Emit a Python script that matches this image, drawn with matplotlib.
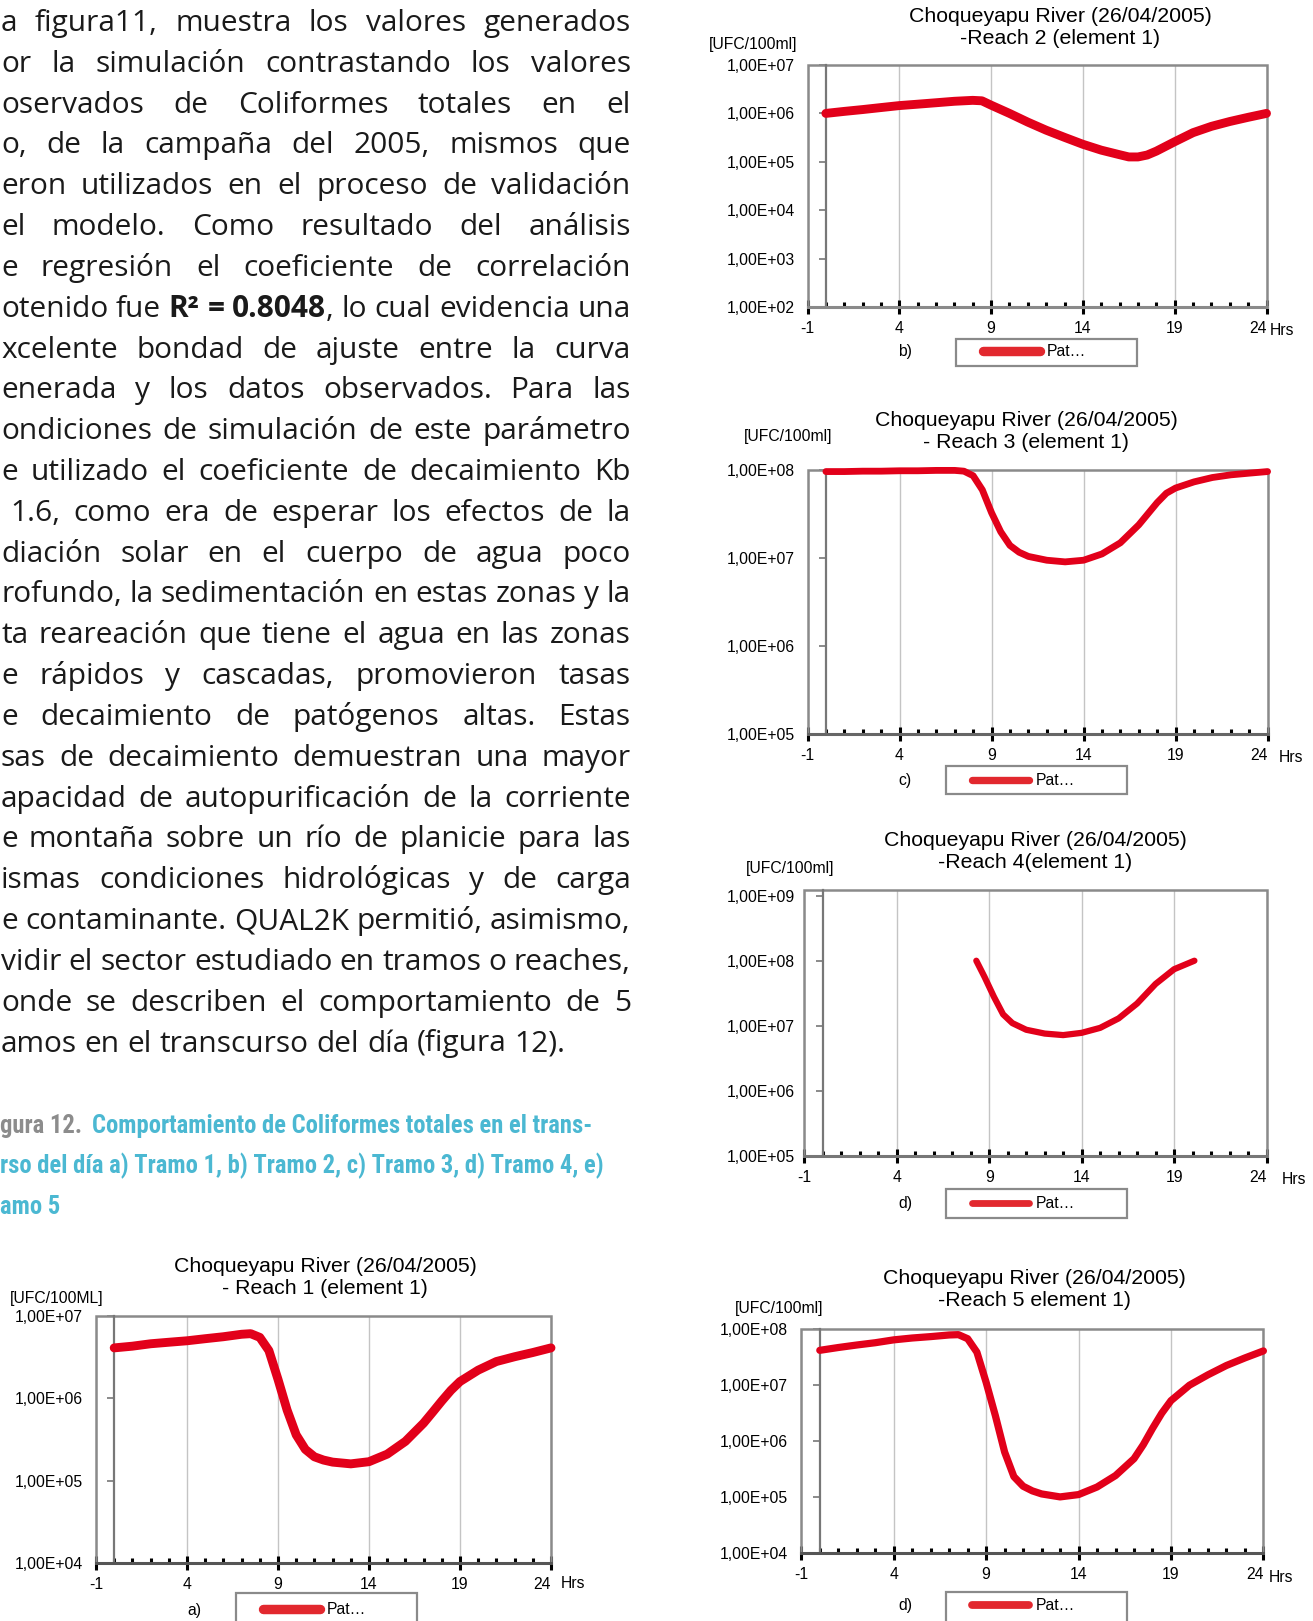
import numpy as np
import matplotlib
matplotlib.use('Agg')
import matplotlib.pyplot as plt
from matplotlib import font_manager as fm
from matplotlib.ticker import FixedLocator, FuncFormatter, NullLocator, MultipleLocator
from matplotlib.lines import Line2D
from matplotlib.patches import Rectangle

W, H, DPI = 1313, 1621, 100

# ---------------- data ----------------
x_ticks = [-1, 4, 9, 14, 19, 24]

hours_a = [0, 1, 2, 3, 4, 5, 6, 7, 7.5, 8, 8.5, 9, 9.5, 10, 10.5, 11, 11.5, 12, 13, 14, 15, 16, 17, 17.5, 18, 18.5,
           19, 20, 21, 22, 23, 24]
ufc_a = [4.1e6, 4.3e6, 4.6e6, 4.8e6, 5.0e6, 5.3e6, 5.6e6, 6.0e6, 6.1e6, 5.5e6, 3.8e6, 1.7e6, 7.2e5, 3.6e5, 2.4e5,
         1.95e5, 1.78e5, 1.68e5, 1.6e5, 1.7e5, 2.1e5, 3.0e5, 5.0e5, 6.8e5, 9.3e5, 1.25e6,
         1.6e6, 2.2e6, 2.8e6, 3.2e6, 3.6e6, 4.1e6]
yticks_a = [1e4, 1e5, 1e6, 1e7]

hours_b = [0, 1, 2, 3, 4, 5, 6, 7, 8, 8.5, 9, 10, 11, 12, 13, 14, 15, 16, 16.5, 17, 17.5, 18, 19, 20, 21, 22, 23, 24]
ufc_b = [1.0e6, 1.1e6, 1.2e6, 1.32e6, 1.45e6, 1.55e6, 1.66e6, 1.78e6, 1.86e6, 1.82e6, 1.48e6, 1.0e6, 6.6e5, 4.5e5,
         3.2e5, 2.3e5, 1.74e5, 1.4e5, 1.26e5, 1.26e5, 1.38e5, 1.66e5, 2.6e5, 4.0e5, 5.4e5, 6.8e5, 8.3e5, 1.0e6]
yticks_b = [1e2, 1e3, 1e4, 1e5, 1e6, 1e7]

hours_c = [0, 1, 2, 3, 4, 5, 6, 7, 7.5, 8, 8.5, 9, 9.5, 10, 10.5, 11, 12, 13, 14, 15, 16, 17, 18, 18.5, 19, 20, 21,
           22, 23, 24]
ufc_c = [9.7e7, 9.7e7, 9.8e7, 9.8e7, 9.9e7, 9.9e7, 1.0e8, 1.0e8, 9.8e7, 8.7e7, 6.0e7, 3.3e7, 2.0e7, 1.4e7, 1.17e7,
         1.05e7, 9.5e6, 9.1e6, 9.5e6, 1.12e7, 1.5e7, 2.4e7, 4.3e7, 5.5e7, 6.3e7, 7.4e7, 8.3e7, 8.9e7, 9.3e7, 9.7e7]
yticks_c = [1e5, 1e6, 1e7, 1e8]

hours_d = [8.3, 8.75, 9.25, 9.75, 10.25, 11, 12, 13, 14, 15, 16, 17, 18, 19, 20.1]
ufc_d = [1.0e8, 5.6e7, 2.8e7, 1.5e7, 1.1e7, 8.7e6, 7.6e6, 7.2e6, 7.8e6, 9.3e6, 1.3e7, 2.2e7, 4.4e7, 7.4e7, 1.0e8]
yticks_d = [1e5, 1e6, 1e7, 1e8, 1e9]

hours_e = [0, 1, 2, 3, 4, 5, 6, 7, 7.5, 8, 8.5, 9, 9.5, 10, 10.5, 11, 11.5, 12, 13, 14, 15, 16, 17, 17.5, 18, 18.5,
           19, 20, 21, 22, 23, 24]
ufc_e = [4.1e7, 4.6e7, 5.1e7, 5.6e7, 6.3e7, 6.8e7, 7.2e7, 7.7e7, 7.8e7, 6.6e7, 3.8e7, 1.1e7, 2.8e6, 6.3e5, 2.3e5,
         1.55e5, 1.28e5, 1.13e5, 1.0e5, 1.1e5, 1.5e5, 2.4e5, 4.8e5, 8.5e5, 1.66e6, 3.1e6,
         5.2e6, 9.8e6, 1.5e7, 2.2e7, 3.0e7, 4.0e7]
yticks_e = [1e4, 1e5, 1e6, 1e7, 1e8]

title_line1 = "Choqueyapu River (26/04/2005)"
titles_line2 = ["- Reach 1 (element 1)", "-Reach 2 (element 1)", "- Reach 3 (element 1)",
                "-Reach 4(element 1)", "-Reach 5 element 1)"]
unit_labels = ["[UFC/100ML]", "[UFC/100ml]", "[UFC/100ml]", "[UFC/100ml]", "[UFC/100ml]"]
panel_letters = ["a)", "b)", "c)", "d)", "d)"]
legend_label = "Pat…"
x_unit = "Hrs"

body_lines = [
    "a figura11, muestra los valores generados",
    "or la simulación contrastando los valores",
    "oservados de Coliformes totales en el",
    "o, de la campaña del 2005, mismos que",
    "eron utilizados en el proceso de validación",
    "el modelo. Como resultado del análisis",
    "e regresión el coeficiente de correlación",
    "otenido fue **R² = 0.8048**, lo cual evidencia una",
    "xcelente bondad de ajuste entre la curva",
    "enerada y los datos observados. Para las",
    "ondiciones de simulación de este parámetro",
    "e utilizado el coeficiente de decaimiento Kb",
    "1.6, como era de esperar los efectos de la",
    "diación solar en el cuerpo de agua poco",
    "rofundo, la sedimentación en estas zonas y la",
    "ta reareación que tiene el agua en las zonas",
    "e rápidos y cascadas, promovieron tasas",
    "e decaimiento de patógenos altas. Estas",
    "sas de decaimiento demuestran una mayor",
    "apacidad de autopurificación de la corriente",
    "e montaña sobre un río de planicie para las",
    "ismas condiciones hidrológicas y de carga",
    "e contaminante. QUAL2K permitió, asimismo,",
    "vidir el sector estudiado en tramos o reaches,",
    "onde se describen el comportamiento de 5",
    "amos en el transcurso del día (figura 12).",
]
caption_gray = "gura 12."
caption_blue = ["Comportamiento de Coliformes totales en el trans-",
                "rso del día a) Tramo 1, b) Tramo 2, c) Tramo 3, d) Tramo 4, e)",
                "amo 5"]

# ---------------- fonts ----------------
available = {f.name for f in fm.fontManager.ttflist}
def pick(cands):
    for c in cands:
        if c in available:
            return c
    return 'DejaVu Sans'

CHART_FONT = pick(['Liberation Sans', 'Arimo', 'DejaVu Sans'])
BODY_FONT = pick(['Open Sans', 'Noto Sans', 'Lato', 'DejaVu Sans'])
CAP_FONT = pick(['Liberation Sans Narrow', 'Roboto Condensed', 'DejaVu Sans Condensed', 'Roboto', 'DejaVu Sans'])
plt.rcParams['font.family'] = [CHART_FONT, 'DejaVu Sans']
plt.rcParams['axes.unicode_minus'] = False

RED = '#E2001A'
FRAME = '#8A8A8A'
GRID = '#C4C4C4'
AXIS0 = '#777777'
TS = 11.3  # chart small text size

fig = plt.figure(figsize=(W / DPI, H / DPI), dpi=DPI)
fig.patch.set_facecolor('white')
renderer = fig.canvas.get_renderer()

def fx(x):
    return x / W

def fy(y):
    return 1 - y / H

# ---------------- charts ----------------
charts = [
    dict(hours=hours_a, ufc=ufc_a, yticks=yticks_a, ylim=(1e4, 1e7), box=(96, 551, 1316, 1563), lw=6.4,
         lab_right=82.7, title_c=(325, 1278), unit=(10, 1299), hrs=(561, 1584), letter=(194, 1610),
         leg_box=(236, 417, 1593, 1630), leg_handle=(263, 1610), xcol='#555555'),
    dict(hours=hours_b, ufc=ufc_b, yticks=yticks_b, ylim=(1e2, 1e7), box=(807.5, 1266.5, 65, 307), lw=6.4,
         lab_right=795, title_c=(1060, 27.5), unit=(709, 44.5), hrs=(1270, 330.5), letter=(905, 351.5),
         leg_box=(956, 1137, 339, 366), leg_handle=(983, 352), xcol='#8A8A8A'),
    dict(hours=hours_c, ufc=ufc_c, yticks=yticks_c, ylim=(1e5, 1e8), box=(807.5, 1267.6, 470.4, 734), lw=4.9,
         lab_right=795, title_c=(1026, 431.5), unit=(744, 437), hrs=(1279, 757.5), letter=(905, 780.6),
         leg_box=(946, 1127, 766, 794), leg_handle=(972, 780.6), xcol='#666666'),
    dict(hours=hours_d, ufc=ufc_d, yticks=yticks_d, ylim=(1e5, 1.22e9), box=(804.4, 1266.5, 890, 1156), lw=4.5,
         lab_right=795, title_c=(1035, 851.5), unit=(746, 868.5), hrs=(1282, 1179), letter=(905, 1203.5),
         leg_box=(946, 1127, 1189, 1218), leg_handle=(972, 1203.5), xcol='#777777'),
    dict(hours=hours_e, ufc=ufc_e, yticks=yticks_e, ylim=(1e4, 1e8), box=(801.3, 1263.4, 1328.6, 1553), lw=5.2,
         lab_right=788, title_c=(1034, 1290), unit=(735, 1308), hrs=(1269, 1577.5), letter=(905, 1605.6),
         leg_box=(946, 1127, 1592, 1630), leg_handle=(972, 1606), xcol='#555555'),
]

fmt = FuncFormatter(lambda v, p: "1,00E+%02d" % int(round(np.log10(v))))

for i, c in enumerate(charts):
    L, R, T, B = c['box']
    ax = fig.add_axes([fx(L), fy(B), (R - L) / W, (B - T) / H])
    ax.set_yscale('log')
    ax.set_xlim(-1, 24)
    ax.set_ylim(*c['ylim'])
    ax.set_axisbelow(True)

    ax.plot(c['hours'], c['ufc'], color=RED, lw=c['lw'], solid_capstyle='round',
            solid_joinstyle='round', zorder=5, clip_on=False)

    # frame
    ax.add_patch(Rectangle((0, 0), 1, 1, transform=ax.transAxes, fill=False, edgecolor=FRAME,
                           lw=1.8, zorder=2.5, clip_on=False))
    ax.spines['top'].set_visible(False)
    ax.spines['right'].set_visible(False)
    ax.spines['left'].set_position(('data', 0))
    ax.spines['left'].set_color(AXIS0)
    ax.spines['left'].set_linewidth(1.6)
    ax.spines['left'].set_zorder(3)
    ax.spines['bottom'].set_color(c['xcol'])
    ax.spines['bottom'].set_linewidth(2.2)
    ax.spines['bottom'].set_zorder(4)

    ax.xaxis.grid(True, which='major', color=GRID, lw=1.0)
    ax.xaxis.set_major_locator(FixedLocator(x_ticks))
    ax.xaxis.set_minor_locator(MultipleLocator(1))
    ax.tick_params(axis='x', which='major', direction='inout', length=10, width=2.2, color='black',
                   labelsize=TS, pad=5)
    ax.tick_params(axis='x', which='minor', direction='in', length=3.5, width=2.2, color='black')

    ax.yaxis.set_major_locator(FixedLocator(c['yticks']))
    ax.yaxis.set_minor_locator(NullLocator())
    ax.yaxis.set_major_formatter(fmt)
    yaxis_px = L + (R - L) / 25.0
    ticklen_px = 7
    pad_pt = max(0.0, (yaxis_px - ticklen_px - c['lab_right'])) * 72 / DPI
    ax.tick_params(axis='y', which='major', direction='out', length=ticklen_px * 72 / DPI, width=1.2,
                   color=AXIS0, labelsize=TS, pad=pad_pt)
    fig.canvas.draw()
    xl = ax.get_xticklabels()
    xl[-1].set_horizontalalignment('right')
    xl[-1].set_x(24)

    # texts
    tx, ty = c['title_c']
    fig.text(fx(tx), fy(ty), title_line1 + "\n" + titles_line2[i], ha='center', va='center',
             fontsize=15.3, linespacing=1.2, multialignment='center')
    ux, uy = c['unit']
    fig.text(fx(ux), fy(uy), unit_labels[i], ha='left', va='center', fontsize=TS)
    hx, hy = c['hrs']
    fig.text(fx(hx), fy(hy), x_unit, ha='left', va='center', fontsize=TS)
    lx, ly = c['letter']
    fig.text(fx(lx), fy(ly), panel_letters[i], ha='center', va='center', fontsize=TS)

    # legend box + legend
    bx0, bx1, by0, by1 = c['leg_box']
    fig.add_artist(Rectangle((fx(bx0), fy(by1)), (bx1 - bx0) / W, (by1 - by0) / H,
                             transform=fig.transFigure, facecolor='none', edgecolor=FRAME, lw=1.6,
                             zorder=-1))
    hx0, hy0 = c['leg_handle']
    leg = ax.legend(handles=[Line2D([], [], color='#E2282E', lw=c['lw'] + 0.4, solid_capstyle='round')],
                    labels=[legend_label], loc='center left', bbox_to_anchor=(fx(hx0), fy(hy0)),
                    bbox_transform=fig.transFigure, frameon=False, borderpad=0, borderaxespad=0,
                    handlelength=3.6, handletextpad=0.45, fontsize=TS)
    leg.set_zorder(10)

# ---------------- body text ----------------
def parse_words(line):
    words = []
    bold = False
    for raw in line.split(' '):
        if raw == '':
            continue
        segs = []
        parts = raw.split('**')
        for k, p in enumerate(parts):
            if k > 0:
                bold = not bold
            if p:
                segs.append((p, bold))
        words.append(segs)
    return words

def seg_width(s, size, bold, family):
    t = fig.text(0, 0, s, fontsize=size, fontweight='bold' if bold else 'normal', family=family)
    w = t.get_window_extent(renderer).width
    t.remove()
    return w

RIGHT_EDGE = 630.7
parsed = [parse_words(l) for l in body_lines]
starts = [1.0] * len(body_lines)
starts[12] = 10.5
base_fs = 21.5
fs_px = base_fs * DPI / 72
ratio = 1.0
for i, words in enumerate(parsed[:-1]):
    tot = sum(seg_width(s, base_fs, b, BODY_FONT) for w in words for (s, b) in w)
    need = tot + (len(words) - 1) * 0.19 * fs_px
    avail = RIGHT_EDGE - starts[i]
    ratio = min(ratio, avail / need)
body_fs = base_fs * ratio
space_nat = seg_width('a a', body_fs, False, BODY_FONT) - seg_width('aa', body_fs, False, BODY_FONT)

for i, words in enumerate(parsed):
    baseline = 31.0 + 40.82 * i
    widths = [[seg_width(s, body_fs, b, BODY_FONT) for (s, b) in w] for w in words]
    tot = sum(sum(ws) for ws in widths)
    if i == len(parsed) - 1:
        gap = space_nat
    else:
        gap = (RIGHT_EDGE - starts[i] - tot) / (len(words) - 1)
    x = starts[i]
    for w, ws in zip(words, widths):
        for (s, b), sw in zip(w, ws):
            fig.text(fx(x), fy(baseline), s, ha='left', va='baseline', fontsize=body_fs,
                     fontweight='bold' if b else 'normal', family=BODY_FONT, color='#1A1A1A')
            x += sw
        x += gap

# ---------------- caption ----------------
cap_base = 20.0
w2 = seg_width(caption_blue[1], cap_base, True, CAP_FONT)
cap_fs = cap_base * 604.0 / w2
cap_baselines = [1132.5, 1173.0, 1213.5]
gray_w = seg_width(caption_gray, cap_fs, True, CAP_FONT)
fig.text(fx(0), fy(cap_baselines[0]), caption_gray, ha='left', va='baseline', fontsize=cap_fs,
         fontweight='bold', family=CAP_FONT, color='#8C8C8C')
fig.text(fx(max(77.5, gray_w + 10)), fy(cap_baselines[0]), caption_blue[0], ha='left', va='baseline',
         fontsize=cap_fs, fontweight='bold', family=CAP_FONT, color='#4BB8D2')
fig.text(fx(0), fy(cap_baselines[1]), caption_blue[1], ha='left', va='baseline', fontsize=cap_fs,
         fontweight='bold', family=CAP_FONT, color='#4BB8D2')
fig.text(fx(0), fy(cap_baselines[2]), caption_blue[2], ha='left', va='baseline', fontsize=cap_fs,
         fontweight='bold', family=CAP_FONT, color='#4BB8D2')

fig.savefig('out.png', dpi=DPI, facecolor='white')
